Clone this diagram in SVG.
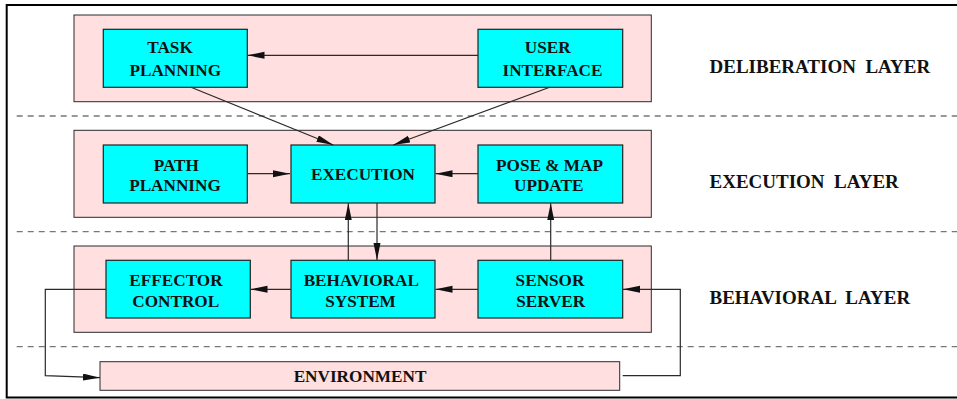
<svg xmlns="http://www.w3.org/2000/svg" width="957" height="399" viewBox="0 0 957 399">
  <style>
    .panel { fill: #ffdfdf; stroke: #2a2a2a; stroke-width: 1; }
    .node { fill: #00ffff; stroke: #222; stroke-width: 1.2; }
    .sep { stroke: #777; stroke-width: 1.3; stroke-dasharray: 6 5; fill: none; }
    .wire { stroke: #2a2a2a; stroke-width: 1.2; fill: none; }
    text { font-family: 'Liberation Serif', 'Times New Roman', 'DejaVu Serif', serif; font-weight: 700; fill: #111; }
    .lbl { font-size: 17.2px; text-anchor: middle; }
    .layer { font-size: 19px; }
  </style>
  <defs>
    <marker id="arr" markerUnits="userSpaceOnUse" markerWidth="18" markerHeight="8" refX="17" refY="3.5" orient="auto">
      <path d="M0,0 L17,3.5 L0,7 Z" fill="#111"/>
    </marker>
  </defs>

  <rect x="0" y="0" width="957" height="399" fill="#fff"/>
  <!-- outer frame -->
  <rect x="6.7" y="5" width="960" height="392.5" fill="none" stroke="#000" stroke-width="2"/>

  <!-- layer separators -->
  <g id="separators">
    <line class="sep" x1="16.7" y1="116" x2="957" y2="116"/>
    <line class="sep" x1="16.7" y1="231.7" x2="957" y2="231.7"/>
    <line class="sep" x1="16.7" y1="346.7" x2="957" y2="346.7"/>
  </g>

  <!-- layer panels -->
  <g id="panels">
    <rect class="panel" x="74" y="15" width="577.3" height="86.7"/>
    <rect class="panel" x="74" y="130.3" width="577.3" height="87"/>
    <rect class="panel" x="74" y="246" width="577.3" height="86.3"/>
  </g>

  <g id="environment">
    <rect class="panel" x="100" y="361.7" width="519.7" height="28.6"/>
    <text class="lbl" x="360" y="381.7">ENVIRONMENT</text>
  </g>

  <g id="task-planning">
    <rect class="node" x="103.3" y="29.3" width="144" height="58"/>
    <text class="lbl" x="170" y="53.3">TASK</text>
    <text class="lbl" x="175.3" y="76">PLANNING</text>
  </g>
  <g id="user-interface">
    <rect class="node" x="478" y="29.3" width="144.7" height="58"/>
    <text class="lbl" x="547.8" y="53.3">USER</text>
    <text class="lbl" x="552.5" y="76">INTERFACE</text>
  </g>
  <g id="path-planning">
    <rect class="node" x="103.3" y="145" width="144" height="58"/>
    <text class="lbl" x="176.3" y="171">PATH</text>
    <text class="lbl" x="175" y="190.7">PLANNING</text>
  </g>
  <g id="execution">
    <rect class="node" x="291" y="145" width="144" height="58"/>
    <text class="lbl" x="363" y="180">EXECUTION</text>
  </g>
  <g id="pose-map-update">
    <rect class="node" x="478" y="145" width="144.7" height="58"/>
    <text class="lbl" x="549.5" y="171">POSE &amp; MAP</text>
    <text class="lbl" x="548.7" y="190.7">UPDATE</text>
  </g>
  <g id="effector-control">
    <rect class="node" x="106" y="260.3" width="144.3" height="57.7"/>
    <text class="lbl" x="176" y="286">EFFECTOR</text>
    <text class="lbl" x="175.7" y="306.7">CONTROL</text>
  </g>
  <g id="behavioral-system">
    <rect class="node" x="291" y="260.3" width="144" height="57.7"/>
    <text class="lbl" x="361.3" y="286">BEHAVIORAL</text>
    <text class="lbl" x="360.5" y="306.7">SYSTEM</text>
  </g>
  <g id="sensor-server">
    <rect class="node" x="478" y="260.3" width="144.7" height="57.7"/>
    <text class="lbl" x="550" y="286">SENSOR</text>
    <text class="lbl" x="550.7" y="306.7">SERVER</text>
  </g>

  <!-- layer titles -->
  <g id="layer-titles">
    <text class="layer" x="709.5" y="73.3" xml:space="preserve">DELIBERATION  LAYER</text>
    <text class="layer" x="709.5" y="188.3" xml:space="preserve">EXECUTION  LAYER</text>
    <text class="layer" x="709.5" y="304" xml:space="preserve">BEHAVIORAL  LAYER</text>
  </g>

  <!-- connectors -->
  <g id="connectors">
    <line class="wire" x1="478" y1="55.3" x2="247.5" y2="55.3" marker-end="url(#arr)"/>
    <line class="wire" x1="191" y1="87.3" x2="333.3" y2="145" marker-end="url(#arr)"/>
    <line class="wire" x1="549.7" y1="87.3" x2="393.3" y2="145" marker-end="url(#arr)"/>
    <line class="wire" x1="247.3" y1="173.7" x2="290" y2="173.7" marker-end="url(#arr)"/>
    <line class="wire" x1="478" y1="173.7" x2="435.5" y2="173.7" marker-end="url(#arr)"/>
    <line class="wire" x1="348.3" y1="260.3" x2="348.3" y2="203.3" marker-end="url(#arr)"/>
    <line class="wire" x1="377" y1="203" x2="377" y2="260" marker-end="url(#arr)"/>
    <line class="wire" x1="550.7" y1="260.3" x2="550.7" y2="203.3" marker-end="url(#arr)"/>
    <line class="wire" x1="291" y1="289.3" x2="250.5" y2="289.3" marker-end="url(#arr)"/>
    <line class="wire" x1="478" y1="289.3" x2="435.5" y2="289.3" marker-end="url(#arr)"/>
    <polyline class="wire" points="106,289.3 45.3,289.3 45.3,375.7 100,377.7" marker-end="url(#arr)"/>
    <polyline class="wire" points="622.7,375.7 680.3,375.7 680.3,289.3 623,289.3" marker-end="url(#arr)"/>
  </g>
</svg>
